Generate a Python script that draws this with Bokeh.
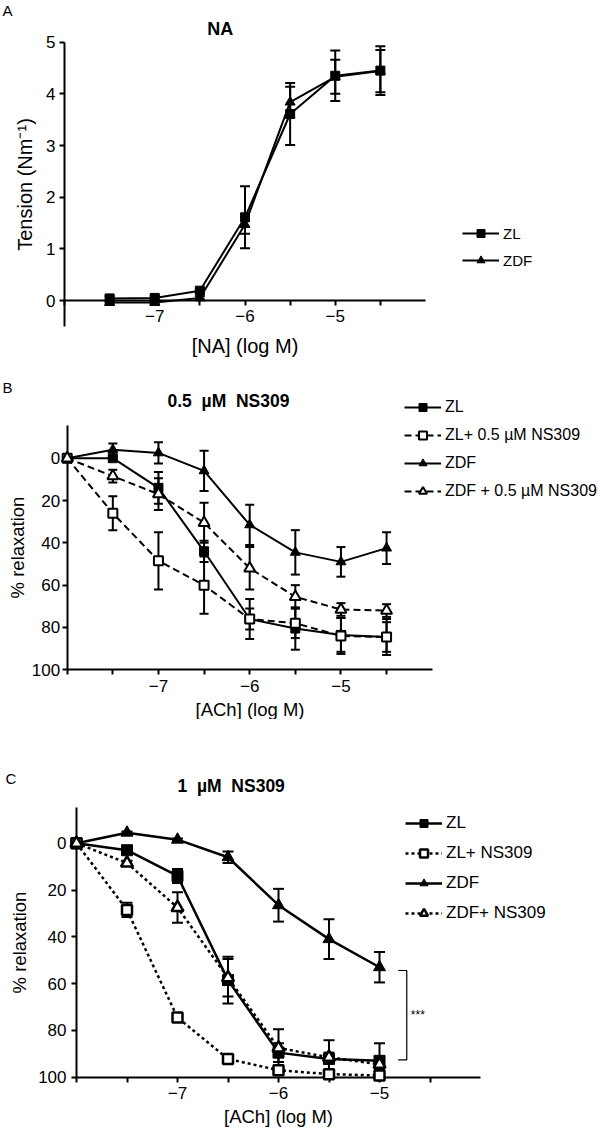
from bokeh.plotting import figure
from bokeh.models import (Range1d, FixedTicker, Whisker, TeeHead, ColumnDataSource,
                          Legend, LegendItem, Label)
from bokeh.layouts import column
from bokeh.embed import file_html
from bokeh.resources import INLINE

FONT = "Liberation Sans"

# ---------------- data ----------------
# Panel A: NA contraction (Tension, Nm^-1)
a_x = [-7.5, -7, -6.5, -6, -5.5, -5, -4.5]
a_zl = [0.04, 0.05, 0.19, 1.61, 3.61, 4.35, 4.45]
a_zl_err = [0.04, 0.04, 0.04, 0.60, 0.60, 0.49, 0.47]
a_zdf = [-0.04, -0.04, 0.05, 1.47, 3.84, 4.33, 4.44]
a_zdf_err = [0.03, 0.03, 0.03, 0.18, 0.30, 0.33, 0.41]

# Panel B: ACh relaxation, 0.5 uM NS309
b_x = [-8, -7.5, -7, -6.5, -6, -5.5, -5, -4.5]
b_zl = [0, 0, 14, 44, 76, 80.5, 83.5, 84.5]
b_zl_err = [0, 1, 7.5, 5, 9.5, 10, 8, 8.5]
b_zl_ns = [0, 26, 48.5, 60, 76, 78, 84, 84.5]
b_zl_ns_err = [0, 8, 13.5, 13.5, 5, 7, 8.5, 7]
b_zdf = [0, -4, -2.5, 6, 31.5, 44.5, 49, 42.5]
b_zdf_err = [0, 3, 5, 9.5, 9.5, 10.5, 7, 7.5]
b_zdf_ns = [0, 8.5, 17, 30.5, 52, 65.5, 71.5, 72]
b_zdf_ns_err = [0, 3, 7.5, 9.5, 10, 5.5, 3, 3]

# Panel C: ACh relaxation, 1 uM NS309
c_x = [-8, -7.5, -7, -6.5, -6, -5.5, -5]
c_zl = [0, 3, 14, 58.5, 89.5, 92.2, 93]
c_zl_err = [0, 1, 3, 10, 4, 8, 7.5]
c_zl_ns = [0, 28.5, 74.5, 92.2, 97, 98.7, 99.3]
c_zl_ns_err = [0, 3, 1, 1, 1.5, 1, 1]
c_zdf = [0, -4.5, -1.5, 6, 26.5, 41, 53]
c_zdf_err = [0, 0.5, 0.5, 2.5, 7, 8.5, 6.5]
c_zdf_ns = [0, 8.5, 27.5, 57.5, 87.5, 91.5, 94.5]
c_zdf_ns_err = [0, 1, 6.5, 8, 8, 2, 2]

x_major = [-7, -6, -5]
x_minor = [-8, -7.5, -6.5, -5.5, -4.5]
x_labels = {-7: "\u22127", -6: "\u22126", -5: "\u22125"}
a_y_ticks = [0, 1, 2, 3, 4, 5]
bc_y_ticks = [0, 20, 40, 60, 80, 100]

W = 600  # canvas width of each panel (the page template has no body margin)


def lin_range(p0, v0, p1, v1, c0, c1):
    k = (v1 - v0) / (p1 - p0)
    return Range1d(v0 + (c0 - p0) * k, v0 + (c1 - p0) * k)


def style_axis(ax, tick_size, label_size, label_standoff, axis_label_standoff):
    ax.axis_line_width = 2
    ax.axis_line_color = "black"
    ax.major_tick_line_width = 2
    ax.major_tick_line_color = "black"
    ax.minor_tick_line_width = 2
    ax.minor_tick_line_color = "black"
    ax.major_tick_in = 0
    ax.major_tick_out = 5
    ax.minor_tick_in = 0
    ax.minor_tick_out = 5
    ax.major_label_text_font = FONT
    ax.major_label_text_font_size = tick_size
    ax.major_label_text_color = "black"
    ax.axis_label_text_font = FONT
    ax.axis_label_text_font_size = label_size
    ax.axis_label_text_font_style = "normal"
    ax.axis_label_text_color = "black"
    ax.major_label_standoff = int(label_standoff)
    ax.axis_label_standoff = int(axis_label_standoff)


def make_panel(top, bottom, xanch, yanch, x_at_y, ybounds, yticks, xlabel, ylabel,
               xl_size, yl_size, xstd, ystd):
    """top/bottom: canvas edges (page px); xanch/yanch: ((px, value), (px, value))."""
    (xp0, xv0), (xp1, xv1) = xanch
    (yp0, yv0), (yp1, yv1) = yanch
    xr = lin_range(xp0, xv0, xp1, xv1, 0, W)
    yr = lin_range(yp0, yv0, yp1, yv1, bottom, top)
    p = figure(width=W, height=bottom - top, x_range=xr, y_range=yr,
               min_border=0, output_backend="svg", toolbar_location=None)
    p.title.visible = False
    p.grid.visible = False
    p.outline_line_color = None
    p.background_fill_color = "white"
    p.border_fill_color = "white"
    xa = p.xaxis[0]
    xa.fixed_location = x_at_y
    xa.bounds = (-8, -4)
    xa.ticker = FixedTicker(ticks=x_major, minor_ticks=x_minor)
    xa.major_label_overrides = x_labels
    xa.axis_label = xlabel
    style_axis(xa, "17px", xl_size, xstd[0], xstd[1])
    ya = p.yaxis[0]
    ya.fixed_location = -8
    ya.bounds = ybounds
    ya.ticker = FixedTicker(ticks=yticks, minor_ticks=[])
    ya.axis_label = ylabel
    style_axis(ya, "17px", yl_size, ystd[0], ystd[1])
    return p


def add_series(p, x, y, err, cap):
    src = ColumnDataSource(dict(x=x, y=y,
                                lo=[v - e for v, e in zip(y, err)],
                                hi=[v + e for v, e in zip(y, err)]))
    p.add_layout(Whisker(source=src, base="x", lower="lo", upper="hi", line_width=2,
                         line_color="black",
                         upper_head=TeeHead(size=cap, line_width=2, line_color="black"),
                         lower_head=TeeHead(size=cap, line_width=2, line_color="black")))
    return src


def text(p, s, x, y, size, bold=False):
    # x, y: screen px from the panel's left / bottom edge
    p.add_layout(Label(x=x, y=y, x_units="screen", y_units="screen", text=s,
                       text_font=FONT, text_font_size=size, text_align="left",
                       text_baseline="middle", text_color="black",
                       text_font_style="bold" if bold else "normal"))


def legend(p, items, vx, vy, spacing, size):
    p.add_layout(Legend(items=[LegendItem(label=t, renderers=r) for t, r in items],
                        location=(vx, vy), orientation="vertical", padding=0, margin=0,
                        spacing=spacing, glyph_width=37, glyph_height=20,
                        label_height=20, label_standoff=4, label_text_font=FONT,
                        label_text_font_size=size, label_text_color="black",
                        border_line_color=None, background_fill_alpha=0))


# ---------------- Panel A ----------------
A_TOP, A_BOT = 0, 380
pa = make_panel(A_TOP, A_BOT, ((64, -8), (425, -4)), ((300, 0), (41.7, 5)), 0, (-0.5, 5),
                a_y_ticks, "[NA] (log M)", "Tension (Nm\u207b\u00b9)", "20px", "20px",
                (4, 10), (4, 7))
text(pa, "A", 2, A_BOT - 10, "15px")
text(pa, "NA", 206.7, A_BOT - 28, "18px", bold=True)

sa = [add_series(pa, a_x, y, e, 10) for y, e in [(a_zl, a_zl_err), (a_zdf, a_zdf_err)]]
la = [pa.line("x", "y", source=s, line_width=2, line_color="black", level="overlay")
      for s in sa]
ma = [pa.scatter("x", "y", source=sa[0], marker="square", size=9, fill_color="black",
                 line_color="black", level="overlay"),
      pa.scatter("x", "y", source=sa[1], marker="triangle", size=10, fill_color="black",
                 line_color="black", level="overlay")]
legend(pa, [("ZL", [la[0], ma[0]]), ("ZDF", [la[1], ma[1]])], 462, A_BOT - 270, 7,
       "15px")

# ---------------- Panel B ----------------
B_TOP, B_BOT = 380, 719
pb = make_panel(B_TOP, B_BOT, ((66.7, -8), (431.7, -4)), ((457.7, 0), (669.3, 100)), 100,
                (-15.4, 100), bc_y_ticks, "[ACh] (log M)", "% relaxation", "18.5px",
                "18.5px", (5, 4), (2, 1))
text(pb, "B", 2, B_BOT - 387, "15px")
text(pb, "0.5\u00a0\u00a0\u00b5M\u00a0\u00a0NS309", 167, B_BOT - 400, "17.5px", bold=True)

DASH_B = "7 4"
sb = [add_series(pb, b_x, y, e, 9) for y, e in
      [(b_zl, b_zl_err), (b_zl_ns, b_zl_ns_err), (b_zdf, b_zdf_err), (b_zdf_ns, b_zdf_ns_err)]]
lines_b = [pb.line("x", "y", source=s, line_width=2, line_color="black", line_dash=d,
                   level="overlay")
           for s, d in zip(sb, ["solid", DASH_B, "solid", DASH_B])]
spec_b = [("square", "black", 9), ("square", "white", 9), ("triangle", "black", 10),
          ("triangle", "white", 11)]
marks_b = [pb.scatter("x", "y", source=s, marker=m, size=sz, fill_color=fc,
                      line_color="black", line_width=2 if fc == "white" else 1,
                      level="overlay") for s, (m, fc, sz) in zip(sb, spec_b)]
labels_b = ["ZL", "ZL+ 0.5 \u00b5M NS309", "ZDF", "ZDF + 0.5 \u00b5M NS309"]
legend(pb, [(t, [l, m]) for t, l, m in zip(labels_b, lines_b, marks_b)],
       404, B_BOT - 500.7, 8, "16px")

# ---------------- Panel C ----------------
C_TOP, C_BOT = 719, 1129
pc = make_panel(C_TOP, C_BOT, ((76, -8), (480, -4)), ((842.7, 0), (1076.7, 100)), 100,
                (-15.4, 100), bc_y_ticks, "[ACh] (log M)", "% relaxation", "18.5px",
                "18.5px", (5, 3), (5, 5))
text(pc, "C", 5, C_BOT - 778, "15px")
text(pc, "1\u00a0\u00a0\u00b5M\u00a0\u00a0NS309", 177, C_BOT - 785, "17.5px", bold=True)

DASH_C = "3 3"
sc = [add_series(pc, c_x, y, e, 11) for y, e in
      [(c_zl, c_zl_err), (c_zl_ns, c_zl_ns_err), (c_zdf, c_zdf_err), (c_zdf_ns, c_zdf_ns_err)]]
lines_c = [pc.line("x", "y", source=s, line_width=2.5, line_color="black", line_dash=d,
                   level="overlay")
           for s, d in zip(sc, ["solid", DASH_C, "solid", DASH_C])]
spec_c = [("square", "black", 11), ("square", "white", 10), ("triangle", "black", 12),
          ("triangle", "white", 12)]
marks_c = [pc.scatter("x", "y", source=s, marker=m, size=sz, fill_color=fc,
                      line_color="black", line_width=2.5 if fc == "white" else 1,
                      level="overlay") for s, (m, fc, sz) in zip(sc, spec_c)]
labels_c = ["ZL", "ZL+ NS309", "ZDF", "ZDF+ NS309"]
legend(pc, [(t, [l, m]) for t, l, m in zip(labels_c, lines_c, marks_c)],
       405, C_BOT - 922.7, 10, "17px")

# significance bracket between ZDF and ZL at the last concentration
bx = c_x[-1] + 0.27
btop, bbot = c_zdf[-1] + 1.4, c_zl[-1] - 0.4
pc.multi_line([[bx - 0.085, bx, bx, bx - 0.085]], [[btop, btop, bbot, bbot]],
              line_width=1.2, line_color="black", level="overlay")
pc.add_layout(Label(x=bx + 0.04, y=(btop + bbot) / 2, text="***", text_font=FONT,
                    text_font_size="12px", text_baseline="middle", text_color="black"))

layout = column(pa, pb, pc, spacing=0)
open("out.html", "w").write(file_html(layout, INLINE))
